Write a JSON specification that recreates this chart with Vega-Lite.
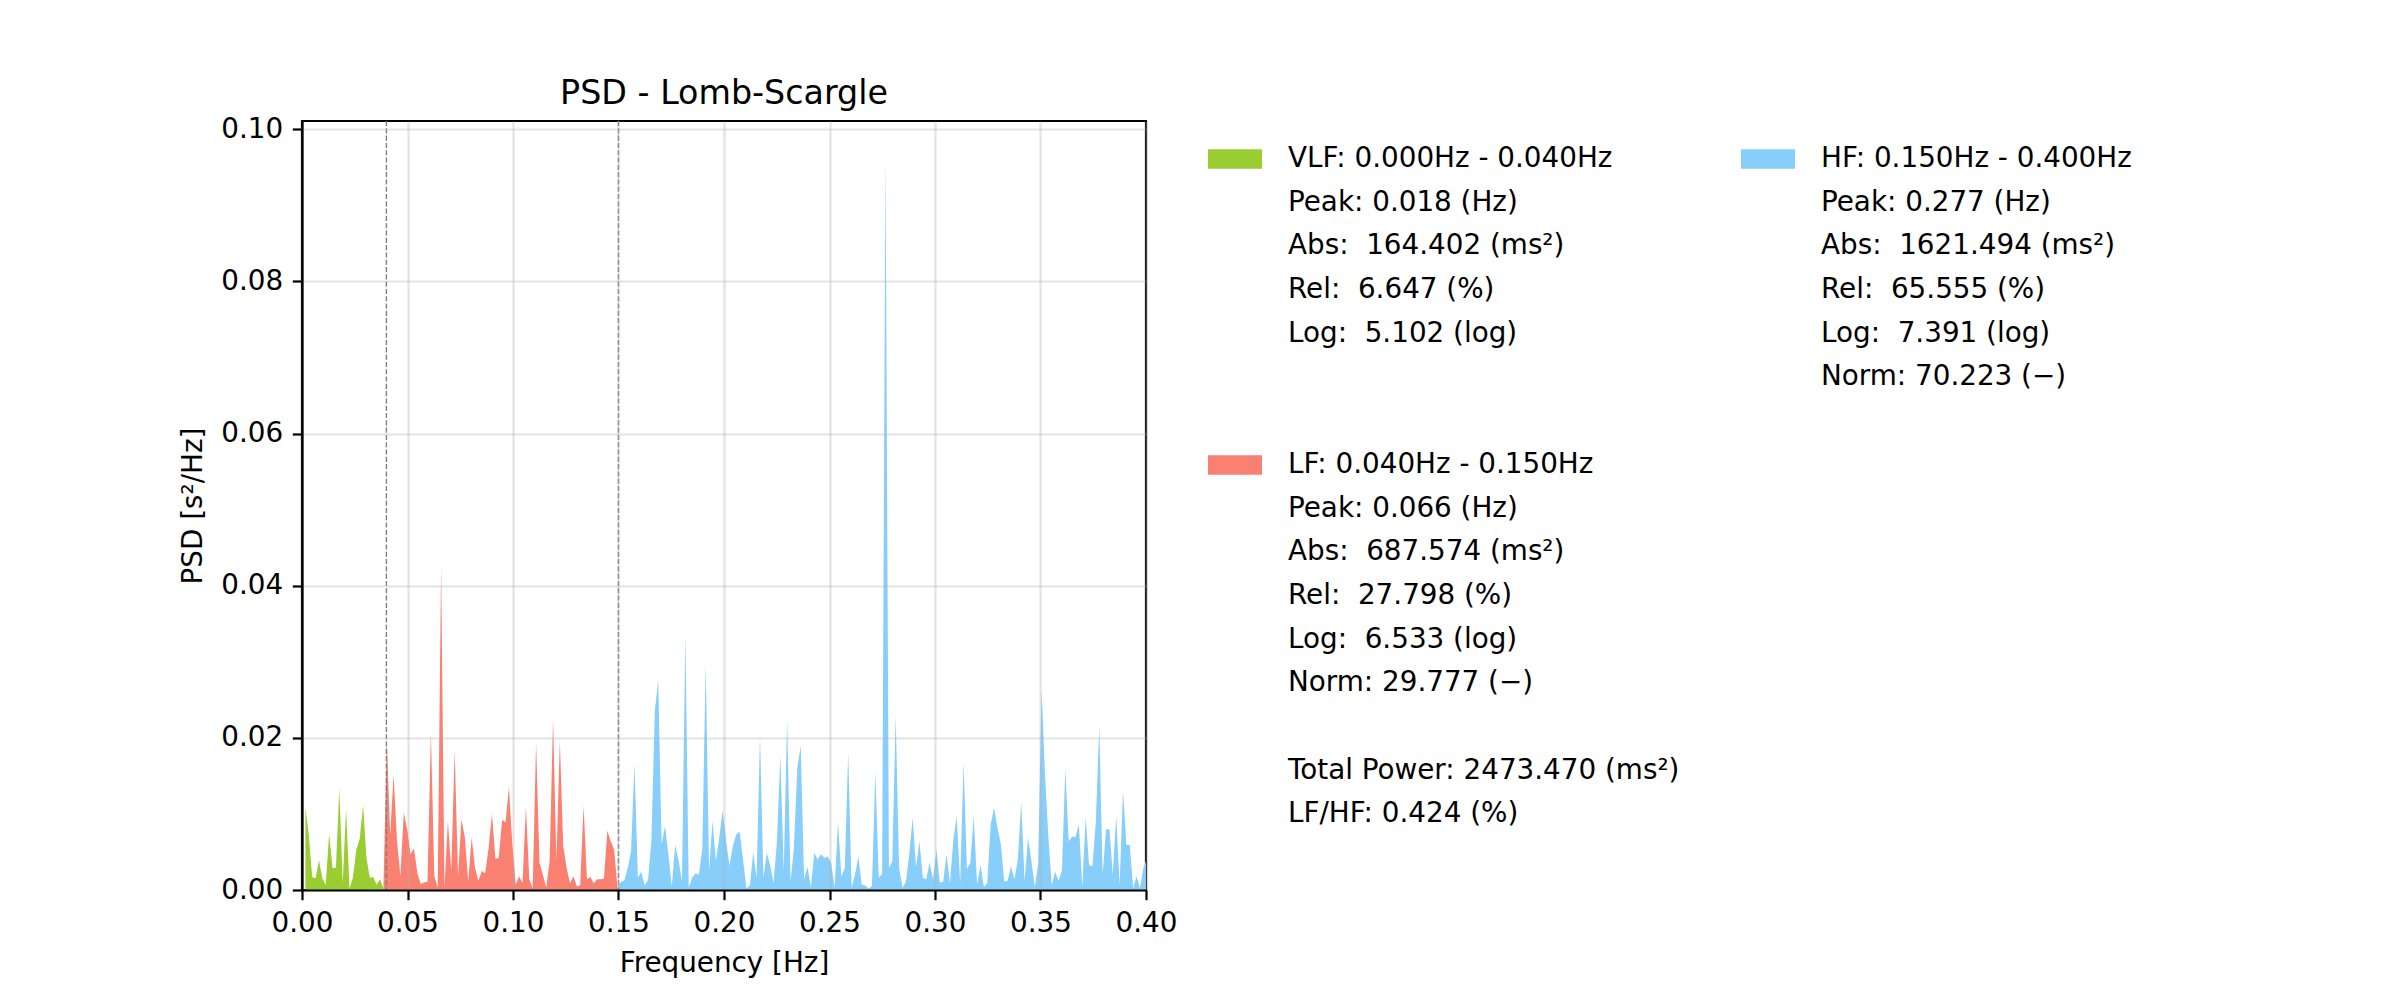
{
"$schema": "https://vega.github.io/schema/vega-lite/v6.json",
"background": "white",
"padding": {"left": 178, "top": 75, "right": 5, "bottom": 5},
"config": {"font": "DejaVu Sans", "view": {"stroke": null}},
"datasets": {
"psd": [
{"freq":0.00161,"psd":0.0108,"band":"VLF"},{"freq":0.00322,"psd":0.0073,"band":"VLF"},{"freq":0.00482,"psd":0.0017,"band":"VLF"},{"freq":0.00643,"psd":0.0015,"band":"VLF"},{"freq":0.00804,"psd":0.0039,"band":"VLF"},{"freq":0.00965,"psd":0.0015,"band":"VLF"},{"freq":0.01125,"psd":0.0007,"band":"VLF"},{"freq":0.01286,"psd":0.0074,"band":"VLF"},{"freq":0.01447,"psd":0.0029,"band":"VLF"},{"freq":0.01608,"psd":0.0029,"band":"VLF"},{"freq":0.01769,"psd":0.0133,"band":"VLF"},{"freq":0.01929,"psd":0.0009,"band":"VLF"},{"freq":0.02090,"psd":0.0107,"band":"VLF"},{"freq":0.02251,"psd":0.0002,"band":"VLF"},{"freq":0.02412,"psd":0.0016,"band":"VLF"},{"freq":0.02573,"psd":0.0053,"band":"VLF"},{"freq":0.02733,"psd":0.0067,"band":"VLF"},{"freq":0.02894,"psd":0.0111,"band":"VLF"},{"freq":0.03055,"psd":0.0042,"band":"VLF"},{"freq":0.03216,"psd":0.0016,"band":"VLF"},{"freq":0.03376,"psd":0.0017,"band":"VLF"},{"freq":0.03537,"psd":0.0007,"band":"VLF"},{"freq":0.03698,"psd":0.0014,"band":"VLF"},{"freq":0.03859,"psd":0.0002,"band":"VLF"},
{"freq":0.04020,"psd":0.0199,"band":"LF"},{"freq":0.04180,"psd":0.0072,"band":"LF"},{"freq":0.04341,"psd":0.0152,"band":"LF"},{"freq":0.04502,"psd":0.0065,"band":"LF"},{"freq":0.04663,"psd":0.0018,"band":"LF"},{"freq":0.04824,"psd":0.0102,"band":"LF"},{"freq":0.04984,"psd":0.0080,"band":"LF"},{"freq":0.05145,"psd":0.0047,"band":"LF"},{"freq":0.05306,"psd":0.0055,"band":"LF"},{"freq":0.05467,"psd":0.0022,"band":"LF"},{"freq":0.05627,"psd":0.0008,"band":"LF"},{"freq":0.05788,"psd":0.0010,"band":"LF"},{"freq":0.05949,"psd":0.0011,"band":"LF"},{"freq":0.06110,"psd":0.0207,"band":"LF"},{"freq":0.06271,"psd":0.0018,"band":"LF"},{"freq":0.06431,"psd":0.0003,"band":"LF"},{"freq":0.06592,"psd":0.0427,"band":"LF"},{"freq":0.06753,"psd":0.0003,"band":"LF"},{"freq":0.06914,"psd":0.0091,"band":"LF"},{"freq":0.07075,"psd":0.0025,"band":"LF"},{"freq":0.07235,"psd":0.0183,"band":"LF"},{"freq":0.07396,"psd":0.0018,"band":"LF"},{"freq":0.07557,"psd":0.0093,"band":"LF"},{"freq":0.07718,"psd":0.0069,"band":"LF"},{"freq":0.07878,"psd":0.0011,"band":"LF"},{"freq":0.08039,"psd":0.0069,"band":"LF"},{"freq":0.08200,"psd":0.0029,"band":"LF"},{"freq":0.08361,"psd":0.0012,"band":"LF"},{"freq":0.08522,"psd":0.0025,"band":"LF"},{"freq":0.08682,"psd":0.0022,"band":"LF"},{"freq":0.08843,"psd":0.0055,"band":"LF"},{"freq":0.09004,"psd":0.0100,"band":"LF"},{"freq":0.09165,"psd":0.0041,"band":"LF"},{"freq":0.09325,"psd":0.0042,"band":"LF"},{"freq":0.09486,"psd":0.0092,"band":"LF"},{"freq":0.09647,"psd":0.0089,"band":"LF"},{"freq":0.09808,"psd":0.0135,"band":"LF"},{"freq":0.09969,"psd":0.0060,"band":"LF"},{"freq":0.10129,"psd":0.0007,"band":"LF"},{"freq":0.10290,"psd":0.0018,"band":"LF"},{"freq":0.10451,"psd":0.0009,"band":"LF"},{"freq":0.10612,"psd":0.0109,"band":"LF"},{"freq":0.10773,"psd":0.0014,"band":"LF"},{"freq":0.10933,"psd":0.0002,"band":"LF"},{"freq":0.11094,"psd":0.0194,"band":"LF"},{"freq":0.11255,"psd":0.0036,"band":"LF"},{"freq":0.11416,"psd":0.0020,"band":"LF"},{"freq":0.11576,"psd":0.0003,"band":"LF"},{"freq":0.11737,"psd":0.0038,"band":"LF"},{"freq":0.11898,"psd":0.0225,"band":"LF"},{"freq":0.12059,"psd":0.0038,"band":"LF"},{"freq":0.12220,"psd":0.0196,"band":"LF"},{"freq":0.12380,"psd":0.0058,"band":"LF"},{"freq":0.12541,"psd":0.0029,"band":"LF"},{"freq":0.12702,"psd":0.0009,"band":"LF"},{"freq":0.12863,"psd":0.0018,"band":"LF"},{"freq":0.13024,"psd":0.0005,"band":"LF"},{"freq":0.13184,"psd":0.0006,"band":"LF"},{"freq":0.13345,"psd":0.0111,"band":"LF"},{"freq":0.13506,"psd":0.0014,"band":"LF"},{"freq":0.13667,"psd":0.0017,"band":"LF"},{"freq":0.13827,"psd":0.0009,"band":"LF"},{"freq":0.13988,"psd":0.0014,"band":"LF"},{"freq":0.14149,"psd":0.0014,"band":"LF"},{"freq":0.14310,"psd":0.0015,"band":"LF"},{"freq":0.14471,"psd":0.0078,"band":"LF"},{"freq":0.14631,"psd":0.0064,"band":"LF"},{"freq":0.14792,"psd":0.0053,"band":"LF"},{"freq":0.14953,"psd":0.0003,"band":"LF"},
{"freq":0.15114,"psd":0.0011,"band":"HF"},{"freq":0.15275,"psd":0.0012,"band":"HF"},{"freq":0.15435,"psd":0.0029,"band":"HF"},{"freq":0.15596,"psd":0.0051,"band":"HF"},{"freq":0.15757,"psd":0.0166,"band":"HF"},{"freq":0.15918,"psd":0.0016,"band":"HF"},{"freq":0.16078,"psd":0.0024,"band":"HF"},{"freq":0.16239,"psd":0.0006,"band":"HF"},{"freq":0.16400,"psd":0.0013,"band":"HF"},{"freq":0.16561,"psd":0.0065,"band":"HF"},{"freq":0.16722,"psd":0.0236,"band":"HF"},{"freq":0.16882,"psd":0.0276,"band":"HF"},{"freq":0.17043,"psd":0.0060,"band":"HF"},{"freq":0.17204,"psd":0.0084,"band":"HF"},{"freq":0.17365,"psd":0.0047,"band":"HF"},{"freq":0.17525,"psd":0.0004,"band":"HF"},{"freq":0.17686,"psd":0.0059,"band":"HF"},{"freq":0.17847,"psd":0.0039,"band":"HF"},{"freq":0.18008,"psd":0.0011,"band":"HF"},{"freq":0.18169,"psd":0.0337,"band":"HF"},{"freq":0.18329,"psd":0.0003,"band":"HF"},{"freq":0.18490,"psd":0.0016,"band":"HF"},{"freq":0.18651,"psd":0.0022,"band":"HF"},{"freq":0.18812,"psd":0.0020,"band":"HF"},{"freq":0.18973,"psd":0.0055,"band":"HF"},{"freq":0.19133,"psd":0.0298,"band":"HF"},{"freq":0.19294,"psd":0.0025,"band":"HF"},{"freq":0.19455,"psd":0.0091,"band":"HF"},{"freq":0.19616,"psd":0.0038,"band":"HF"},{"freq":0.19776,"psd":0.0069,"band":"HF"},{"freq":0.19937,"psd":0.0105,"band":"HF"},{"freq":0.20098,"psd":0.0065,"band":"HF"},{"freq":0.20259,"psd":0.0032,"band":"HF"},{"freq":0.20420,"psd":0.0058,"band":"HF"},{"freq":0.20580,"psd":0.0073,"band":"HF"},{"freq":0.20741,"psd":0.0077,"band":"HF"},{"freq":0.20902,"psd":0.0040,"band":"HF"},{"freq":0.21063,"psd":0.0002,"band":"HF"},{"freq":0.21224,"psd":0.0006,"band":"HF"},{"freq":0.21384,"psd":0.0049,"band":"HF"},{"freq":0.21545,"psd":0.0016,"band":"HF"},{"freq":0.21706,"psd":0.0201,"band":"HF"},{"freq":0.21867,"psd":0.0016,"band":"HF"},{"freq":0.22027,"psd":0.0049,"band":"HF"},{"freq":0.22188,"psd":0.0033,"band":"HF"},{"freq":0.22349,"psd":0.0009,"band":"HF"},{"freq":0.22510,"psd":0.0064,"band":"HF"},{"freq":0.22671,"psd":0.0177,"band":"HF"},{"freq":0.22831,"psd":0.0025,"band":"HF"},{"freq":0.22992,"psd":0.0225,"band":"HF"},{"freq":0.23153,"psd":0.0011,"band":"HF"},{"freq":0.23314,"psd":0.0055,"band":"HF"},{"freq":0.23475,"psd":0.0161,"band":"HF"},{"freq":0.23635,"psd":0.0190,"band":"HF"},{"freq":0.23796,"psd":0.0014,"band":"HF"},{"freq":0.23957,"psd":0.0031,"band":"HF"},{"freq":0.24118,"psd":0.0003,"band":"HF"},{"freq":0.24278,"psd":0.0049,"band":"HF"},{"freq":0.24439,"psd":0.0040,"band":"HF"},{"freq":0.24600,"psd":0.0047,"band":"HF"},{"freq":0.24761,"psd":0.0042,"band":"HF"},{"freq":0.24922,"psd":0.0044,"band":"HF"},{"freq":0.25082,"psd":0.0035,"band":"HF"},{"freq":0.25243,"psd":0.0003,"band":"HF"},{"freq":0.25404,"psd":0.0089,"band":"HF"},{"freq":0.25565,"psd":0.0018,"band":"HF"},{"freq":0.25725,"psd":0.0029,"band":"HF"},{"freq":0.25886,"psd":0.0181,"band":"HF"},{"freq":0.26047,"psd":0.0003,"band":"HF"},{"freq":0.26208,"psd":0.0020,"band":"HF"},{"freq":0.26369,"psd":0.0044,"band":"HF"},{"freq":0.26529,"psd":0.0007,"band":"HF"},{"freq":0.26690,"psd":0.0006,"band":"HF"},{"freq":0.26851,"psd":0.0002,"band":"HF"},{"freq":0.27012,"psd":0.0005,"band":"HF"},{"freq":0.27173,"psd":0.0155,"band":"HF"},{"freq":0.27333,"psd":0.0016,"band":"HF"},{"freq":0.27494,"psd":0.0021,"band":"HF"},{"freq":0.27655,"psd":0.0963,"band":"HF"},{"freq":0.27816,"psd":0.0029,"band":"HF"},{"freq":0.27976,"psd":0.0038,"band":"HF"},{"freq":0.28137,"psd":0.0230,"band":"HF"},{"freq":0.28298,"psd":0.0029,"band":"HF"},{"freq":0.28459,"psd":0.0003,"band":"HF"},{"freq":0.28620,"psd":0.0011,"band":"HF"},{"freq":0.28780,"psd":0.0047,"band":"HF"},{"freq":0.28941,"psd":0.0095,"band":"HF"},{"freq":0.29102,"psd":0.0030,"band":"HF"},{"freq":0.29263,"psd":0.0064,"band":"HF"},{"freq":0.29424,"psd":0.0016,"band":"HF"},{"freq":0.29584,"psd":0.0014,"band":"HF"},{"freq":0.29745,"psd":0.0036,"band":"HF"},{"freq":0.29906,"psd":0.0014,"band":"HF"},{"freq":0.30067,"psd":0.0053,"band":"HF"},{"freq":0.30227,"psd":0.0010,"band":"HF"},{"freq":0.30388,"psd":0.0011,"band":"HF"},{"freq":0.30549,"psd":0.0047,"band":"HF"},{"freq":0.30710,"psd":0.0009,"band":"HF"},{"freq":0.30871,"psd":0.0067,"band":"HF"},{"freq":0.31031,"psd":0.0097,"band":"HF"},{"freq":0.31192,"psd":0.0009,"band":"HF"},{"freq":0.31353,"psd":0.0168,"band":"HF"},{"freq":0.31514,"psd":0.0027,"band":"HF"},{"freq":0.31675,"psd":0.0036,"band":"HF"},{"freq":0.31835,"psd":0.0097,"band":"HF"},{"freq":0.31996,"psd":0.0007,"band":"HF"},{"freq":0.32157,"psd":0.0033,"band":"HF"},{"freq":0.32318,"psd":0.0004,"band":"HF"},{"freq":0.32478,"psd":0.0009,"band":"HF"},{"freq":0.32639,"psd":0.0086,"band":"HF"},{"freq":0.32800,"psd":0.0108,"band":"HF"},{"freq":0.32961,"psd":0.0082,"band":"HF"},{"freq":0.33122,"psd":0.0060,"band":"HF"},{"freq":0.33282,"psd":0.0011,"band":"HF"},{"freq":0.33443,"psd":0.0012,"band":"HF"},{"freq":0.33604,"psd":0.0031,"band":"HF"},{"freq":0.33765,"psd":0.0014,"band":"HF"},{"freq":0.33925,"psd":0.0040,"band":"HF"},{"freq":0.34086,"psd":0.0115,"band":"HF"},{"freq":0.34247,"psd":0.0011,"band":"HF"},{"freq":0.34408,"psd":0.0069,"band":"HF"},{"freq":0.34569,"psd":0.0038,"band":"HF"},{"freq":0.34729,"psd":0.0004,"band":"HF"},{"freq":0.34890,"psd":0.0035,"band":"HF"},{"freq":0.35051,"psd":0.0265,"band":"HF"},{"freq":0.35212,"psd":0.0152,"band":"HF"},{"freq":0.35373,"psd":0.0070,"band":"HF"},{"freq":0.35533,"psd":0.0006,"band":"HF"},{"freq":0.35694,"psd":0.0024,"band":"HF"},{"freq":0.35855,"psd":0.0012,"band":"HF"},{"freq":0.36016,"psd":0.0026,"band":"HF"},{"freq":0.36176,"psd":0.0159,"band":"HF"},{"freq":0.36337,"psd":0.0064,"band":"HF"},{"freq":0.36498,"psd":0.0070,"band":"HF"},{"freq":0.36659,"psd":0.0070,"band":"HF"},{"freq":0.36820,"psd":0.0086,"band":"HF"},{"freq":0.36980,"psd":0.0004,"band":"HF"},{"freq":0.37141,"psd":0.0096,"band":"HF"},{"freq":0.37302,"psd":0.0033,"band":"HF"},{"freq":0.37463,"psd":0.0031,"band":"HF"},{"freq":0.37624,"psd":0.0090,"band":"HF"},{"freq":0.37784,"psd":0.0216,"band":"HF"},{"freq":0.37945,"psd":0.0020,"band":"HF"},{"freq":0.38106,"psd":0.0080,"band":"HF"},{"freq":0.38267,"psd":0.0080,"band":"HF"},{"freq":0.38427,"psd":0.0020,"band":"HF"},{"freq":0.38588,"psd":0.0097,"band":"HF"},{"freq":0.38749,"psd":0.0007,"band":"HF"},{"freq":0.38910,"psd":0.0130,"band":"HF"},{"freq":0.39071,"psd":0.0059,"band":"HF"},{"freq":0.39231,"psd":0.0059,"band":"HF"},{"freq":0.39392,"psd":0.0002,"band":"HF"},{"freq":0.39553,"psd":0.0018,"band":"HF"},{"freq":0.39714,"psd":0.0002,"band":"HF"},{"freq":0.39875,"psd":0.0029,"band":"HF"},{"freq":0.40035,"psd":0.0040,"band":"HF"}
],
"bounds": [{"freq": 0.04}, {"freq": 0.15}],
"legend": [
{"col":0,"line":0,"text":"VLF: 0.000Hz - 0.040Hz","band":"VLF"},
{"col":0,"line":1,"text":"Peak: 0.018 (Hz)"},
{"col":0,"line":2,"text":"Abs: \u00a0164.402 (ms²)"},
{"col":0,"line":3,"text":"Rel: \u00a06.647 (%)"},
{"col":0,"line":4,"text":"Log: \u00a05.102 (log)"},
{"col":0,"line":7,"text":"LF: 0.040Hz - 0.150Hz","band":"LF"},
{"col":0,"line":8,"text":"Peak: 0.066 (Hz)"},
{"col":0,"line":9,"text":"Abs: \u00a0687.574 (ms²)"},
{"col":0,"line":10,"text":"Rel: \u00a027.798 (%)"},
{"col":0,"line":11,"text":"Log: \u00a06.533 (log)"},
{"col":0,"line":12,"text":"Norm: 29.777 (−)"},
{"col":0,"line":14,"text":"Total Power: 2473.470 (ms²)"},
{"col":0,"line":15,"text":"LF/HF: 0.424 (%)"},
{"col":1,"line":0,"text":"HF: 0.150Hz - 0.400Hz","band":"HF"},
{"col":1,"line":1,"text":"Peak: 0.277 (Hz)"},
{"col":1,"line":2,"text":"Abs: \u00a01621.494 (ms²)"},
{"col":1,"line":3,"text":"Rel: \u00a065.555 (%)"},
{"col":1,"line":4,"text":"Log: \u00a07.391 (log)"},
{"col":1,"line":5,"text":"Norm: 70.223 (−)"}
]
},
"resolve": {"scale": {"x": "independent", "y": "independent"}},
"bounds": "flush",
"spacing": 89,
"hconcat": [
{
"width": 844, "height": 769,
"title": {"text": "PSD - Lomb-Scargle", "fontSize": 33.3, "fontWeight": "normal", "color": "black", "anchor": "middle", "baseline": "alphabetic", "offset": -22, "font": "DejaVu Sans"},
"view": {"stroke": "black", "strokeWidth": 2.2},
"layer": [
{"data": {"name": "psd"},
 "mark": {"type": "area", "clip": true, "interpolate": "linear", "opacity": 1},
 "encoding": {
  "x": {"field": "freq", "type": "quantitative", "scale": {"domain": [0, 0.4], "nice": false, "zero": false},
   "axis": {"title": "Frequency [Hz]", "values": [0, 0.05, 0.1, 0.15, 0.2, 0.25, 0.3, 0.35, 0.4], "format": ".2f", "grid": true, "gridColor": "#b0b0b0", "gridOpacity": 0.35, "gridWidth": 2.2, "domain": true, "domainColor": "black", "domainWidth": 2.2, "ticks": true, "tickColor": "black", "tickWidth": 2.2, "tickSize": 9.7, "labelPadding": 9.7, "labelFontSize": 27.8, "labelColor": "black", "labelFont": "DejaVu Sans", "labelFlush": false, "labelOverlap": false, "titleFont": "DejaVu Sans", "titleFontSize": 27.8, "titleFontWeight": "normal", "titleColor": "black", "titlePadding": 12, "zindex": 1}},
  "y": {"field": "psd", "type": "quantitative", "scale": {"domain": [0, 0.1011], "nice": false},
   "axis": {"title": "PSD [s²/Hz]", "values": [0, 0.02, 0.04, 0.06, 0.08, 0.1], "format": ".2f", "grid": true, "gridColor": "#b0b0b0", "gridOpacity": 0.35, "gridWidth": 2.2, "domain": true, "domainColor": "black", "domainWidth": 2.2, "ticks": true, "tickColor": "black", "tickWidth": 2.2, "tickSize": 9.7, "labelPadding": 9.7, "labelFontSize": 27.8, "labelColor": "black", "labelFont": "DejaVu Sans", "labelFlush": false, "labelOverlap": false, "titleFont": "DejaVu Sans", "titleFontSize": 27.8, "titleFontWeight": "normal", "titleColor": "black", "titlePadding": 13, "zindex": 1}},
  "color": {"field": "band", "type": "nominal", "scale": {"domain": ["VLF", "LF", "HF"], "range": ["#9acd32", "#fa8072", "#87cefa"]}, "legend": null}
 }},
{"data": {"name": "bounds"},
 "mark": {"type": "rule", "color": "#808080", "strokeWidth": 1.4, "strokeDash": [5.1, 2.2]},
 "encoding": {"x": {"field": "freq", "type": "quantitative"}}}
]
},
{
"width": 533, "height": 769,
"data": {"name": "legend"},
"layer": [
{"transform": [{"filter": "datum.band != null"}],
 "mark": {"type": "point", "shape": "M-1,-0.361L1,-0.361L1,0.361L-1,0.361Z", "size": 2916, "filled": true, "opacity": 1, "strokeWidth": 0},
 "encoding": {
  "x": {"field": "col", "type": "quantitative", "scale": {"domain": [0, 1], "nice": false, "zero": false}, "axis": null},
  "y": {"field": "line", "type": "quantitative", "scale": {"domain": [-0.8696, 16.728], "nice": false, "zero": false, "reverse": true}, "axis": null},
  "color": {"field": "band", "type": "nominal", "scale": {"domain": ["VLF", "LF", "HF"], "range": ["#9acd32", "#fa8072", "#87cefa"]}, "legend": null}
 }},
{"mark": {"type": "text", "align": "left", "baseline": "middle", "dx": 53, "fontSize": 27.8, "color": "black", "font": "DejaVu Sans"},
 "encoding": {
  "x": {"field": "col", "type": "quantitative", "scale": {"domain": [0, 1], "nice": false, "zero": false}, "axis": null},
  "y": {"field": "line", "type": "quantitative", "scale": {"domain": [-0.8696, 16.728], "nice": false, "zero": false, "reverse": true}, "axis": null},
  "text": {"field": "text", "type": "nominal"}
 }}
]
}
]
}
